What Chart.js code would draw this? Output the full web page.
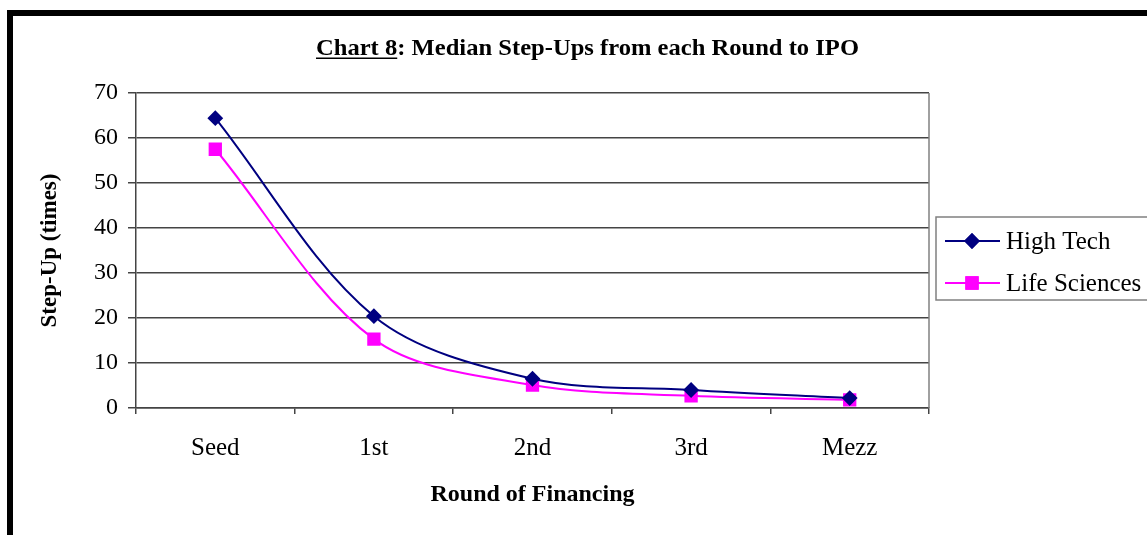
<!DOCTYPE html>
<html>
<head>
<meta charset="utf-8">
<script src="https://cdn.jsdelivr.net/npm/chart.js@4/dist/chart.umd.min.js"></script>
<style>
  html, body { margin: 0; padding: 0; background: #fff; }
  #wrap { width: 1147px; height: 535px; position: relative; }
</style>
</head>
<body>
<div id="wrap"><canvas id="c" width="1147" height="535"></canvas></div>
<script>
// data
const categories = ['Seed', '1st', '2nd', '3rd', 'Mezz'];
const highTech = [64.4, 20.4, 6.5, 4.0, 2.2];
const lifeSciences = [57.5, 15.3, 5.1, 2.7, 1.8];
const yMin = 0, yMax = 70, yStep = 10;

const serif = '"Liberation Serif", "Times New Roman", serif';
const gridColor = '#444';

// black frame around the whole chart (runs off right/bottom edge)
const framePlugin = {
  id: 'frame',
  beforeDraw(chart) {
    const ctx = chart.ctx;
    ctx.save();
    ctx.fillStyle = '#fff';
    ctx.fillRect(0, 0, chart.width, chart.height);
    ctx.fillStyle = '#000';
    ctx.fillRect(7, 10, 6, chart.height - 10);
    ctx.fillRect(7, 10, chart.width - 7, 6);
    ctx.restore();
  },
  afterDraw(chart) {
    // gray right edge of plot area
    const a = chart.chartArea, ctx = chart.ctx;
    ctx.save();
    ctx.strokeStyle = '#808080';
    ctx.lineWidth = 1.5;
    ctx.beginPath();
    ctx.moveTo(a.right, a.top);
    ctx.lineTo(a.right, a.bottom);
    ctx.stroke();
    ctx.restore();
  }
};

// title with underlined "Chart 8" (stretched a bit wide like the original)
const titlePlugin = {
  id: 'ulTitle',
  afterDraw(chart) {
    const ctx = chart.ctx;
    const partA = 'Chart 8', partB = ': Median Step-Ups from each Round to IPO';
    ctx.save();
    ctx.font = 'bold 23px ' + serif;
    ctx.fillStyle = '#000';
    ctx.textBaseline = 'alphabetic';
    const wA = ctx.measureText(partA).width;
    const wB = ctx.measureText(partB).width;
    const sx = 543 / (wA + wB);
    ctx.translate(316, 55);
    ctx.scale(sx, 1);
    ctx.fillText(partA, 0, 0);
    ctx.fillText(partB, wA, 0);
    ctx.fillRect(0, 2.5, wA, 1.5);
    ctx.restore();
  }
};

// Excel-style legend: boxed, line + marker samples
const legendPlugin = {
  id: 'boxLegend',
  afterDraw(chart) {
    const ctx = chart.ctx;
    const bx = 936, by = 217, bw = 230, bh = 83;
    ctx.save();
    ctx.strokeStyle = '#808080';
    ctx.lineWidth = 1.5;
    ctx.strokeRect(bx, by, bw, bh);
    ctx.font = '25px ' + serif;
    ctx.textBaseline = 'middle';
    chart.data.datasets.forEach((ds, i) => {
      const y = 241 + i * 42;
      ctx.strokeStyle = ds.borderColor;
      ctx.lineWidth = 2;
      ctx.beginPath();
      ctx.moveTo(945, y);
      ctx.lineTo(1000, y);
      ctx.stroke();
      Chart.helpers.drawPoint(ctx, {
        pointStyle: ds.pointStyle,
        radius: ds.pointRadius,
        borderWidth: 1
      }, 972, y);
      ctx.fillStyle = ds.pointBackgroundColor;
      ctx.strokeStyle = ds.borderColor;
      ctx.fill();
      ctx.stroke();
      ctx.fillStyle = '#000';
      ctx.fillText(ds.label, 1006, y + 1);
    });
    ctx.restore();
  }
};

new Chart(document.getElementById('c'), {
  type: 'line',
  data: {
    labels: categories,
    datasets: [
      {
        label: 'High Tech',
        data: highTech,
        borderColor: '#000080',
        backgroundColor: '#000080',
        pointBackgroundColor: '#000080',
        pointBorderColor: '#000080',
        pointStyle: 'rectRot',
        pointRadius: 6.5,
        borderWidth: 2,
        tension: 0.33
      },
      {
        label: 'Life Sciences',
        data: lifeSciences,
        borderColor: '#FF00FF',
        backgroundColor: '#FF00FF',
        pointBackgroundColor: '#FF00FF',
        pointBorderColor: '#FF00FF',
        pointStyle: 'rect',
        pointRadius: 8,
        borderWidth: 2,
        tension: 0.33
      }
    ]
  },
  options: {
    responsive: false,
    animation: false,
    events: [],
    layout: { padding: { left: 36, right: 218, top: 93, bottom: 26 } },
    plugins: {
      legend: { display: false },
      title: { display: false },
      tooltip: { enabled: false }
    },
    scales: {
      x: {
        offset: true,
        afterFit: s => { s.height = 101; },
        grid: {
          offset: true,
          drawOnChartArea: false,
          drawTicks: true,
          tickLength: 6,
          color: gridColor,
          lineWidth: 1.5
        },
        border: { color: gridColor, width: 1.5 },
        ticks: {
          color: '#000',
          padding: 19,
          maxRotation: 0,
          font: { family: serif, size: 25 }
        },
        title: {
          display: true,
          text: 'Round of Financing',
          color: '#000',
          padding: 0,
          font: { family: serif, size: 24, weight: 'bold' }
        }
      },
      y: {
        min: yMin,
        max: yMax,
        afterFit: s => { s.width = 100; },
        grid: {
          color: gridColor,
          lineWidth: 1.5,
          drawTicks: true,
          tickLength: 8
        },
        border: { color: gridColor, width: 1.5 },
        ticks: {
          stepSize: yStep,
          color: '#000',
          padding: 10,
          font: { family: serif, size: 24 }
        },
        title: {
          display: true,
          text: 'Step-Up (times)',
          color: '#000',
          padding: 0,
          font: { family: serif, size: 23, weight: 'bold' }
        }
      }
    }
  },
  plugins: [framePlugin, titlePlugin, legendPlugin]
});
</script>
</body>
</html>
